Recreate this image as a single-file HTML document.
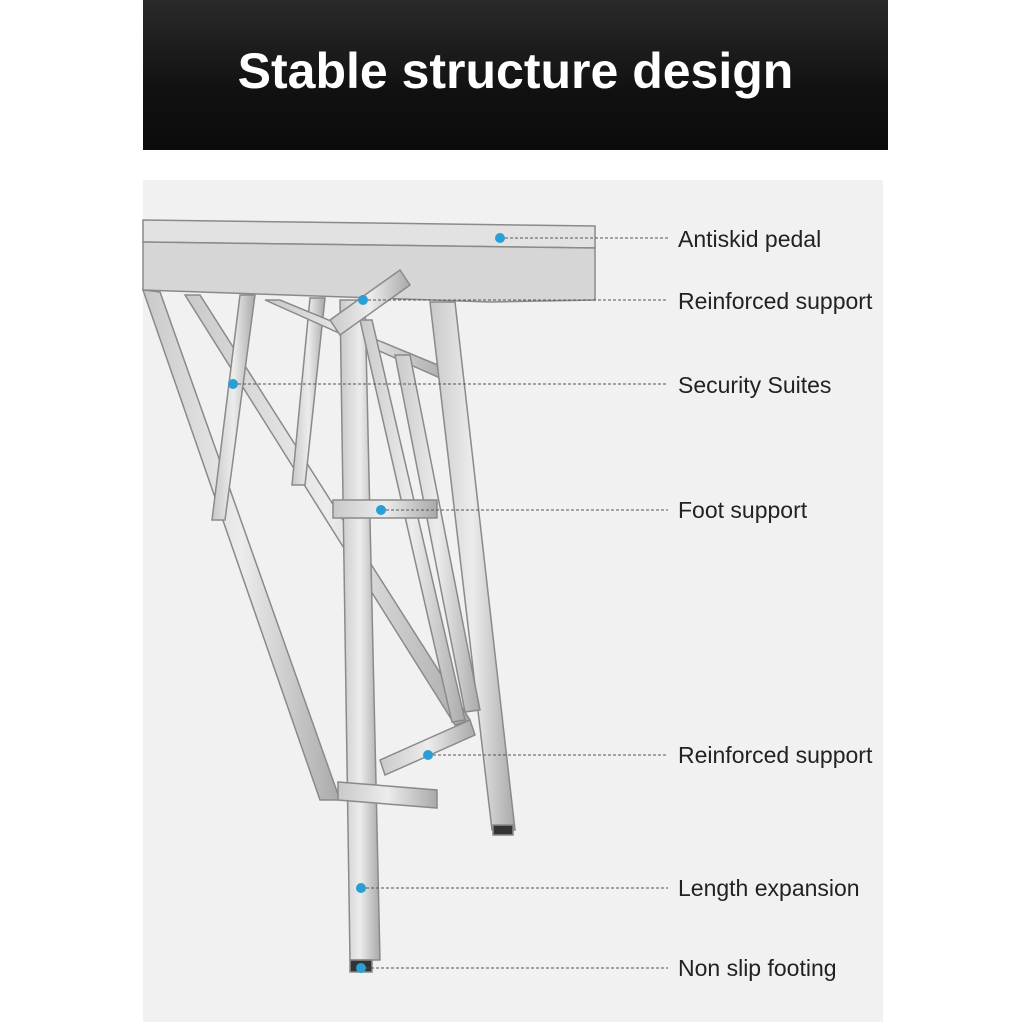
<!DOCTYPE html>
<html><head><style>
body{margin:0;width:1024px;height:1024px;background:#fff;position:relative;overflow:hidden;font-family:"Liberation Sans",sans-serif}
.hdr{position:absolute;left:143px;top:0;width:745px;height:150px;background:linear-gradient(180deg,#2a2a2a,#111 60%,#0b0b0b)}
.hdr h1{margin:0;position:absolute;width:100%;top:42px;text-align:center;color:#fff;font-size:50px;font-weight:bold;letter-spacing:0px}
.panel{position:absolute;left:143px;top:180px;width:740px;height:842px;background:#f1f1f1}
.lbl{position:absolute;left:678px;font-size:23px;color:#222}
</style></head><body>
<div class="hdr"><h1>Stable structure design</h1></div>
<div class="panel"></div>
<svg width="1024" height="1024" style="position:absolute;left:0;top:0">
<defs><linearGradient id="m" x1="0" x2="1"><stop offset="0" stop-color="#c9c9c9"/><stop offset=".5" stop-color="#ececec"/><stop offset="1" stop-color="#a9a9a9"/></linearGradient></defs>
<g stroke="#8a8a8a" stroke-width="1.5" fill="url(#m)">
<polygon points="143,220 595,226 595,248 143,242" fill="#e2e2e2"/>
<polygon points="143,242 595,248 595,300 490,302 143,290" fill="#d6d6d6"/>
<polygon points="143,290 160,292 340,800 320,800"/>
<polygon points="185,295 200,295 470,720 455,725"/>
<polygon points="240,295 255,295 225,520 212,520"/>
<polygon points="310,298 325,298 305,485 292,485"/>
<polygon points="265,300 280,300 450,370 440,378"/>
<polygon points="340,300 365,300 380,960 350,960"/>
<polygon points="430,302 455,302 515,830 492,830"/>
<polygon points="395,355 410,355 480,710 465,712"/>
<polygon points="360,320 372,320 465,720 452,722"/>
<polygon points="330,320 400,270 410,285 340,335"/>
<polygon points="333,500 437,500 437,518 333,518"/>
<polygon points="338,782 437,790 437,808 338,800"/>
<polygon points="380,760 470,720 475,735 385,775"/>
<rect x="350" y="960" width="22" height="12" fill="#333"/>
<rect x="493" y="825" width="20" height="10" fill="#333"/>
</g>
<g stroke="#555" stroke-width="1" stroke-dasharray="3,2">
<line x1="500" y1="238" x2="668" y2="238"/>
<line x1="363" y1="300" x2="668" y2="300"/>
<line x1="233" y1="384" x2="668" y2="384"/>
<line x1="381" y1="510" x2="668" y2="510"/>
<line x1="428" y1="755" x2="668" y2="755"/>
<line x1="361" y1="888" x2="668" y2="888"/>
<line x1="361" y1="968" x2="668" y2="968"/>
</g>
<g fill="#2a9fd6">
<circle cx="500" cy="238" r="5"/><circle cx="363" cy="300" r="5"/><circle cx="233" cy="384" r="5"/><circle cx="381" cy="510" r="5"/><circle cx="428" cy="755" r="5"/><circle cx="361" cy="888" r="5"/><circle cx="361" cy="968" r="5"/>
</g>
</svg>
<div class="lbl" style="top:226px">Antiskid pedal</div>
<div class="lbl" style="top:288px">Reinforced support</div>
<div class="lbl" style="top:372px">Security Suites</div>
<div class="lbl" style="top:497px">Foot support</div>
<div class="lbl" style="top:742px">Reinforced support</div>
<div class="lbl" style="top:875px">Length expansion</div>
<div class="lbl" style="top:955px">Non slip footing</div>
</body></html>
